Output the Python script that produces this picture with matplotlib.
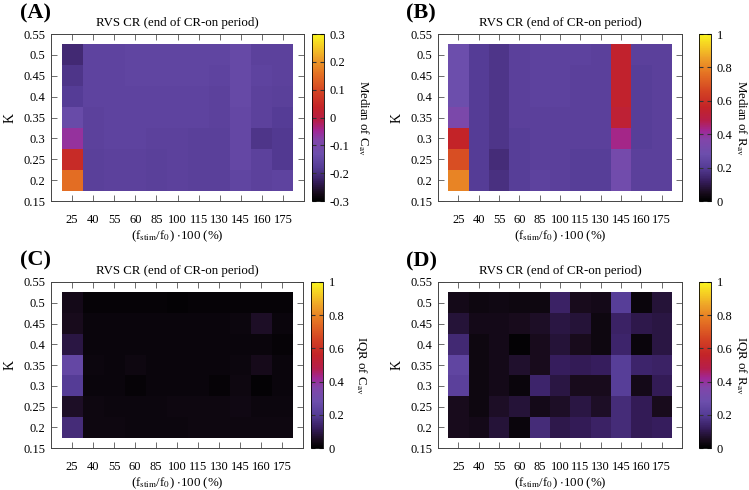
import numpy as np
import matplotlib
matplotlib.use("Agg")
import matplotlib.pyplot as plt
from matplotlib.colors import LinearSegmentedColormap

plt.rcParams['font.family'] = ['Liberation Serif', 'DejaVu Serif']
plt.rcParams['mathtext.fontset'] = 'stix'

# ---------------- data ----------------
x_labels = ["25", "40", "55", "60", "85", "100", "115", "130", "145", "160", "175"]
x_values = [25, 40, 55, 70, 85, 100, 115, 130, 145, 160, 175]
k_values = [0.2, 0.25, 0.3, 0.35, 0.4, 0.45, 0.5]   # rows bottom -> top

# Panel A: median of C_av (rows K=0.2 ... 0.5)
median_cav = [
    [0.15, -0.17, -0.165, -0.165, -0.17, -0.165, -0.17, -0.17, -0.155, -0.165, -0.16],
    [0.05, -0.17, -0.165, -0.165, -0.17, -0.165, -0.17, -0.17, -0.15, -0.165, -0.185],
    [-0.06, -0.165, -0.16, -0.16, -0.165, -0.165, -0.17, -0.17, -0.15, -0.19, -0.185],
    [-0.14, -0.165, -0.16, -0.16, -0.16, -0.16, -0.16, -0.165, -0.15, -0.165, -0.18],
    [-0.18, -0.16, -0.16, -0.16, -0.16, -0.16, -0.16, -0.165, -0.145, -0.165, -0.17],
    [-0.19, -0.16, -0.16, -0.155, -0.155, -0.155, -0.155, -0.16, -0.145, -0.16, -0.165],
    [-0.21, -0.16, -0.16, -0.155, -0.155, -0.155, -0.155, -0.155, -0.145, -0.165, -0.165],
]

# Panel B: median of R_av
median_rav = [
    [0.80, 0.20, 0.17, 0.21, 0.23, 0.22, 0.21, 0.21, 0.30, 0.22, 0.22],
    [0.68, 0.20, 0.16, 0.21, 0.22, 0.22, 0.21, 0.21, 0.32, 0.22, 0.22],
    [0.56, 0.20, 0.18, 0.21, 0.22, 0.22, 0.22, 0.22, 0.43, 0.21, 0.22],
    [0.34, 0.20, 0.18, 0.22, 0.22, 0.22, 0.22, 0.22, 0.53, 0.21, 0.22],
    [0.28, 0.20, 0.18, 0.22, 0.23, 0.23, 0.22, 0.22, 0.55, 0.21, 0.22],
    [0.28, 0.20, 0.18, 0.22, 0.23, 0.23, 0.22, 0.22, 0.55, 0.21, 0.22],
    [0.28, 0.20, 0.18, 0.22, 0.23, 0.23, 0.23, 0.22, 0.55, 0.22, 0.22],
]

# Panel C: IQR of C_av
iqr_cav = [
    [0.16, 0.03, 0.03, 0.025, 0.025, 0.025, 0.03, 0.03, 0.03, 0.03, 0.03],
    [0.06, 0.03, 0.025, 0.025, 0.025, 0.03, 0.03, 0.03, 0.035, 0.025, 0.025],
    [0.20, 0.02, 0.02, 0.015, 0.02, 0.02, 0.02, 0.015, 0.03, 0.01, 0.02],
    [0.25, 0.025, 0.02, 0.03, 0.02, 0.02, 0.02, 0.02, 0.025, 0.045, 0.02],
    [0.09, 0.02, 0.02, 0.02, 0.02, 0.02, 0.02, 0.02, 0.02, 0.02, 0.015],
    [0.05, 0.02, 0.02, 0.02, 0.02, 0.02, 0.02, 0.02, 0.025, 0.06, 0.02],
    [0.04, 0.015, 0.015, 0.015, 0.015, 0.01, 0.015, 0.015, 0.015, 0.015, 0.015],
]

# Panel D: IQR of R_av
iqr_rav = [
    [0.05, 0.04, 0.08, 0.02, 0.16, 0.10, 0.11, 0.13, 0.16, 0.11, 0.12],
    [0.05, 0.03, 0.06, 0.08, 0.04, 0.06, 0.09, 0.06, 0.16, 0.11, 0.05],
    [0.22, 0.03, 0.04, 0.02, 0.14, 0.09, 0.05, 0.05, 0.21, 0.04, 0.11],
    [0.24, 0.03, 0.04, 0.07, 0.05, 0.12, 0.11, 0.12, 0.21, 0.14, 0.13],
    [0.15, 0.03, 0.04, 0.01, 0.05, 0.08, 0.05, 0.03, 0.14, 0.02, 0.09],
    [0.08, 0.04, 0.04, 0.05, 0.06, 0.09, 0.08, 0.03, 0.13, 0.10, 0.09],
    [0.04, 0.03, 0.035, 0.03, 0.03, 0.13, 0.05, 0.04, 0.21, 0.02, 0.08],
]

panels = [
    ("(A)", median_cav, -0.3, 0.3, [-0.3, -0.2, -0.1, 0, 0.1, 0.2, 0.3],
     ["-0.3", "-0.2", "-0.1", "0", "0.1", "0.2", "0.3"], r"Median of C$_{\mathrm{av}}$"),
    ("(B)", median_rav, 0, 1, [0, 0.2, 0.4, 0.6, 0.8, 1],
     ["0", "0.2", "0.4", "0.6", "0.8", "1"], r"Median of R$_{\mathrm{av}}$"),
    ("(C)", iqr_cav, 0, 1, [0, 0.2, 0.4, 0.6, 0.8, 1],
     ["0", "0.2", "0.4", "0.6", "0.8", "1"], r"IQR of C$_{\mathrm{av}}$"),
    ("(D)", iqr_rav, 0, 1, [0, 0.2, 0.4, 0.6, 0.8, 1],
     ["0", "0.2", "0.4", "0.6", "0.8", "1"], r"IQR of R$_{\mathrm{av}}$"),
]

# ---------------- style ----------------
anchors = [
    (0.00, (0, 0, 0)),
    (0.05, (25, 12, 30)),
    (0.12, (55, 30, 95)),
    (0.20, (85, 60, 150)),
    (0.28, (108, 78, 172)),
    (0.36, (128, 70, 170)),
    (0.42, (160, 40, 150)),
    (0.48, (182, 30, 75)),
    (0.56, (195, 35, 40)),
    (0.66, (212, 68, 35)),
    (0.76, (228, 112, 35)),
    (0.86, (238, 162, 40)),
    (0.93, (245, 205, 35)),
    (1.00, (250, 245, 30)),
]
cmap = LinearSegmentedColormap.from_list(
    "gp", [(p, tuple(c / 255 for c in rgb)) for p, rgb in anchors])

W, H = 749, 490
fig = plt.figure(figsize=(W / 100, H / 100), dpi=100)

def frac(l, t, r, b):
    return [l / W, 1 - b / H, (r - l) / W, (b - t) / H]

ax_boxes = [(51, 34, 304, 201), (438, 34, 682, 201), (51, 282, 303, 448), (438, 282, 682, 448)]
cb_boxes = [(312, 34, 324, 201), (699, 34, 711, 201), (311, 282, 323, 448), (699, 282, 711, 448)]
letter_pos = [(20, 13), (406, 13), (20, 260), (406, 261)]
label_center_px = [363, 741, 362, 741]

xs = np.array(x_values, dtype=float)
ks = np.array(k_values)
x_edges = np.concatenate([[xs[0] - 7.5], (xs[:-1] + xs[1:]) / 2, [xs[-1] + 7.5]])
k_edges = np.concatenate([[ks[0] - 0.025], (ks[:-1] + ks[1:]) / 2, [ks[-1] + 0.025]])

fs = 9
for i, (letter, data, vmin, vmax, cticks, cticklabels, clabel) in enumerate(panels):
    ax = fig.add_axes(frac(*ax_boxes[i]))
    mesh = ax.pcolormesh(x_edges, k_edges, np.array(data), cmap=cmap, vmin=vmin, vmax=vmax,
                         shading='flat')
    ax.set_xlim(10, 190)
    ax.set_ylim(0.15, 0.55)
    ax.set_xticks(x_values)
    ax.set_xticklabels(x_labels, fontsize=fs)
    ax.set_yticks([0.15, 0.2, 0.25, 0.3, 0.35, 0.4, 0.45, 0.5, 0.55])
    ax.set_yticklabels(["0.15", "0.2", "0.25", "0.3", "0.35", "0.4", "0.45", "0.5", "0.55"], fontsize=fs)
    ax.tick_params(direction='in', top=True, right=True, length=4, width=0.6, color='#555555', pad=4)
    ax.tick_params(axis='x', pad=9)
    for s in ax.spines.values():
        s.set_linewidth(0.7)
        s.set_color('#444444')
    ax.set_title("RVS CR (end of CR-on period)", fontsize=9.3, pad=6)
    ax.set_xlabel(r"(f$_{\mathrm{stim}}$/f$_0$) $\cdot$100 (%)", fontsize=9.3, labelpad=2)
    ax.set_ylabel("K", fontsize=10, labelpad=5)

    cax = fig.add_axes(frac(*cb_boxes[i]))
    cb = fig.colorbar(mesh, cax=cax)
    cb.set_ticks(cticks)
    cb.set_ticklabels(cticklabels)
    cax.tick_params(labelsize=fs, direction='in', left=True, right=True, length=3,
                    width=0.8, color='#333333', pad=4)
    cb.outline.set_linewidth(0.6)
    cb.outline.set_linewidth(0.6)
    cb.ax.set_ylabel("")
    cbl, cbt, cbr, cbb = cb_boxes[i]
    fig.text(label_center_px[i] / W, 1 - ((cbt + cbb) / 2) / H, clabel, rotation=270,
             fontsize=9.3, ha='center', va='center')

    fig.text(letter_pos[i][0] / W, 1 - letter_pos[i][1] / H, letter, fontsize=16,
             fontweight='bold', ha='left', va='center')

fig.savefig("out.png", dpi=100)
